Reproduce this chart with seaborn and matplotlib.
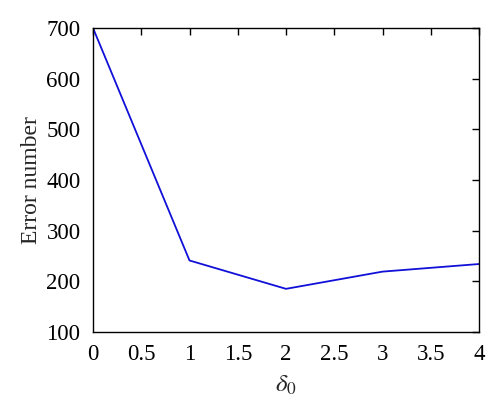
import seaborn as sns
import matplotlib.pyplot as plt
import pandas as pd

# data
delta0 = [0, 1, 2, 3, 4]
error_number = [700, 241, 185, 219, 234]

df = pd.DataFrame({'delta0': delta0, 'error': error_number})

sns.set_style('white')
plt.rcParams['font.family'] = ['Liberation Serif', 'DejaVu Serif']
plt.rcParams['mathtext.fontset'] = 'stix'

fig = plt.figure(figsize=(5, 4.18), dpi=100)
ax = fig.add_axes([0.186, 0.206, 0.772, 0.727])

sns.lineplot(data=df, x='delta0', y='error', color='#1010d8', linewidth=1.3, ax=ax)

ax.set_xlim(0, 4)
ax.set_ylim(100, 700)
ax.set_xticks([0, 0.5, 1, 1.5, 2, 2.5, 3, 3.5, 4])
ax.set_xticklabels(['0', '0.5', '1', '1.5', '2', '2.5', '3', '3.5', '4'])
ax.set_yticks(range(100, 701, 100))

ax.tick_params(direction='in', length=5, width=1, top=True, right=True,
               labelsize=16.5, colors='black')
ax.tick_params(axis='x', pad=9)
ax.tick_params(axis='y', pad=9)
for s in ax.spines.values():
    s.set_color('black')
    s.set_linewidth(1)

ax.set_xlabel(r'$\delta_0$', fontsize=18, labelpad=6)
ax.set_ylabel('Error number', fontsize=17, labelpad=3)

fig.savefig('out.png', dpi=100)
